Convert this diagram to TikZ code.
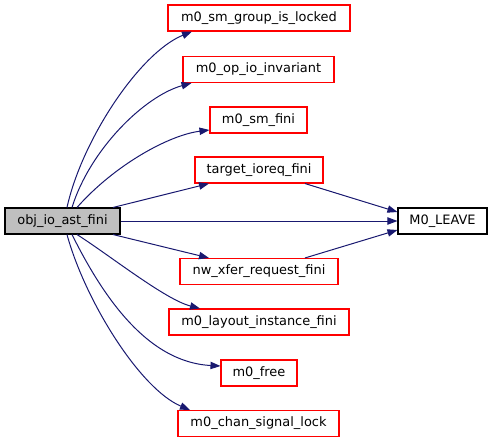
\documentclass[tikz,border=0pt]{standalone}
\usepackage{fontspec}
\setmainfont{DejaVu Sans}
\usetikzlibrary{arrows.meta,calc}
\definecolor{edgeblue}{HTML}{191970}
\definecolor{boxred}{HTML}{FF0000}
\definecolor{rootgray}{HTML}{BFBFBF}
\tikzset{
  fn/.style={draw=boxred, fill=white, line width=0.8pt, minimum height=19.5pt, inner sep=0pt, font=\fontsize{9.7}{11}\selectfont},
  rootbox/.style={fn, draw=black, fill=rootgray},
  leafbox/.style={fn, draw=black},
  edge/.style={draw=edgeblue, line width=0.75pt, -{Triangle[length=7.5pt,width=5.5pt]}}
}
\begin{document}
\begin{tikzpicture}[x=0.75pt,y=-0.75pt]
\useasboundingbox (0,0) rectangle (492,443);
\node[rootbox, minimum width=86.25pt] (root) at (62.5,221) {obj\_io\_ast\_fini};
\node[leafbox, minimum width=66.75pt] (leave) at (442.5,221) {M0\_LEAVE};
\node[fn, minimum width=136.5pt] (sgl) at (259,18) {m0\_sm\_group\_is\_locked};
\node[fn, minimum width=113.25pt] (opi) at (258.5,69.5) {m0\_op\_io\_invariant};
\node[fn, minimum width=72.75pt] (smf) at (258.5,120) {m0\_sm\_fini};
\node[fn, minimum width=96pt] (tif) at (259,170) {target\_ioreq\_fini};
\node[fn, minimum width=118.5pt] (nwx) at (259,271.5) {nw\_xfer\_request\_fini};
\node[fn, minimum width=135pt] (lif) at (259,322) {m0\_layout\_instance\_fini};
\node[fn, minimum width=57pt] (free) at (259,373) {m0\_free};
\node[fn, minimum width=120.75pt] (csl) at (258.5,423.5) {m0\_chan\_signal\_lock};

\draw[edge] ($(root.north)+(4.5,0)$) .. controls +(15,-68) and +(-52,21) .. ($(sgl.south)+(-67,0)$);
\draw[edge] ($(root.north)+(9.5,0)$) .. controls +(18,-58) and +(-47,13) .. ($(opi.south)+(-67,0)$);
\draw[edge] ($(root.north)+(14.5,0)$) .. controls +(38,-43) and +(-40,5) .. ($(smf.west)+(0,10)$);
\draw[edge] ($(root.north)+(50.5,0)$) -- ($(tif.south)+(-50,0)$);
\draw[edge] (root.east) -- (leave.west);
\draw[edge] ($(tif.south)+(46,0)$) -- ($(leave.west)+(0,-9)$);
\draw[edge] ($(nwx.north)+(46,0)$) -- ($(leave.west)+(0,9)$);
\draw[edge] ($(root.south)+(50.5,0)$) -- ($(nwx.north)+(-50,0)$);
\draw[edge] ($(root.south)+(14.5,0)$) .. controls +(33,21) and +(-35,-9) .. ($(lif.north)+(-59,0)$);
\draw[edge] ($(root.south)+(9.5,0)$) .. controls +(28,56) and +(-76,-4) .. ($(free.west)+(0,-7)$);
\draw[edge] ($(root.south)+(4.5,0)$) .. controls +(18,66) and +(-50,-21) .. ($(csl.north)+(-68.5,0)$);
\end{tikzpicture}
\end{document}
